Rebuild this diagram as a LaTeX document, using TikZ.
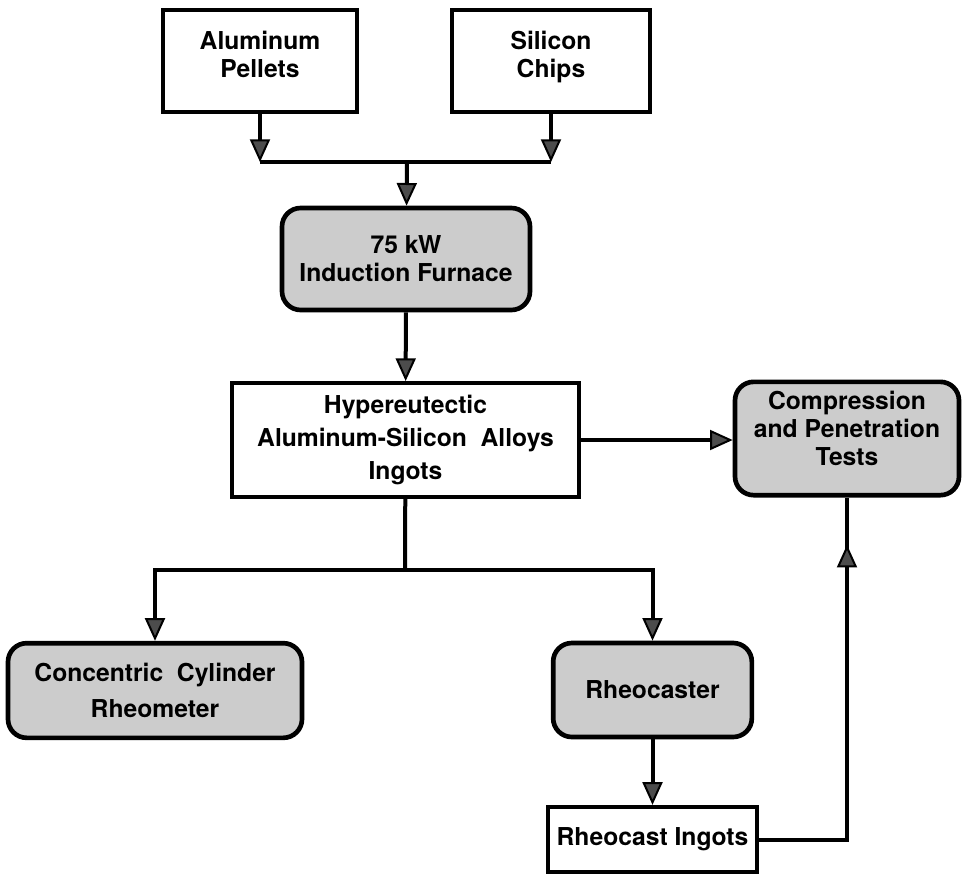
\documentclass[tikz,border=0pt]{standalone}
\usepackage{fontspec}
\setmainfont{TeX Gyre Heros}
\usetikzlibrary{arrows.meta, decorations.markings}

\begin{document}
\begin{tikzpicture}[x=0.75pt, y=-0.75pt,
        box/.style={draw, line width=3pt, align=center, inner sep=0pt,
            font=\bfseries\fontsize{18.5}{21}\selectfont},
        roundbox/.style={box, line width=3.5pt, rounded corners=14pt, fill=gray!40},
        tip/.style={-{Triangle[width=15pt, length=17pt, fill=black!70, line width=1.5pt]}},
        flow/.style={line width=3pt, tip}]
    \useasboundingbox (0,0) rectangle (967,875);

    \node[box, minimum width=146pt, minimum height=76.5pt] (al) at (260,61) {Aluminum\\Pellets\\[-11pt]};
    \node[box, minimum width=148pt, minimum height=76.5pt] (si) at (551,61) {Silicon\\Chips\\[-11pt]};
    \node[roundbox, minimum width=186pt, minimum height=76.5pt] (furn) at (406,259) {75 kW\\Induction Furnace};
    \node[box, minimum width=260pt, minimum height=85.5pt, font=\bfseries\fontsize{18.5}{25}\selectfont]
        (hyper) at (405.5,440) {Hypereutectic\\Aluminum-Silicon\ \ Alloys\\Ingots};
    \node[roundbox, minimum width=168pt, minimum height=85pt] (comp) at (847,438.5) {Compression\\and Penetration\\Tests\\[-5pt]};
    \node[roundbox, minimum width=220.5pt, minimum height=71pt, font=\bfseries\fontsize{18.5}{27}\selectfont]
        (conc) at (155,690.5) {Concentric\ \ Cylinder\\Rheometer};
    \node[roundbox, minimum width=149pt, minimum height=70.5pt] (rheo) at (652.5,690) {Rheocaster};
    \node[box, minimum width=157pt, minimum height=49pt] (ingot) at (652.5,839.5) {Rheocast Ingots};

    \coordinate (j1) at (407,162);
    \coordinate (j2) at (405,570);

    \draw[flow] (al) -- (al |- j1);
    \draw[flow] (si) -- (si |- j1);
    \draw[line width=3pt] (al |- j1) -- (si |- j1);
    \draw[flow] (j1) -- (furn);
    \draw[flow] (furn) -- (hyper);
    \draw[flow] (hyper.east) -- (hyper.east -| comp.west);
    \draw[line width=3pt] (hyper) -- (j2);
    \draw[line width=3pt] (conc |- j2) -- (rheo |- j2);
    \draw[flow] (j2) -| (conc);
    \draw[flow] (j2) -| (rheo);
    \draw[flow] (rheo) -- (ingot);
    \draw[line width=3pt, postaction={decorate},
        decoration={markings, mark=at position 0.89 with {\arrow{Triangle[width=15pt, length=17pt, fill=black!70, line width=1.5pt]}}}]
        (ingot.east) -| (comp.south);
\end{tikzpicture}
\end{document}
